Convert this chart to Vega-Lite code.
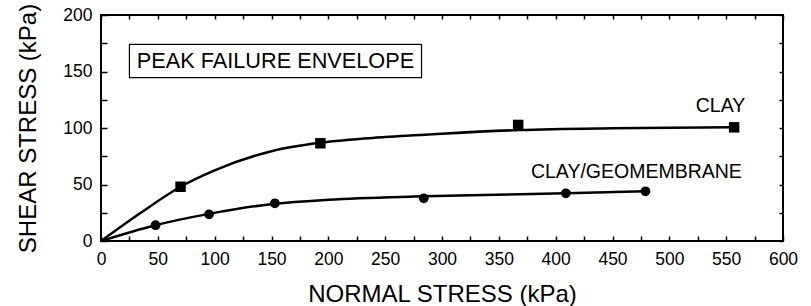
{
  "$schema": "https://vega.github.io/schema/vega-lite/v6.json",
  "width": 682,
  "height": 226,
  "padding": {"left": 101, "top": 15, "right": 28, "bottom": 65},
  "autosize": {"type": "none"},
  "background": "white",
  "config": {
    "view": {"stroke": "black", "strokeWidth": 2},
    "font": "Liberation Sans",
    "axis": {"domain": false, "grid": false, "labelFlush": false, "labelOverlap": false, "tickColor": "black", "labelColor": "black", "titleColor": "black", "labelFont": "Liberation Sans", "titleFont": "Liberation Sans", "labelFontSize": 17.5, "titleFontSize": 24, "titleFontWeight": "normal", "tickWidth": 1.5}
  },
  "datasets": {
    "points": [
      {"series": "CLAY", "normal": 70, "shear": 48},
      {"series": "CLAY", "normal": 193, "shear": 86.5},
      {"series": "CLAY", "normal": 367, "shear": 102.7},
      {"series": "CLAY", "normal": 557, "shear": 100.6},
      {"series": "CLAY/GEOMEMBRANE", "normal": 48, "shear": 14},
      {"series": "CLAY/GEOMEMBRANE", "normal": 95, "shear": 23.6},
      {"series": "CLAY/GEOMEMBRANE", "normal": 153, "shear": 33.4},
      {"series": "CLAY/GEOMEMBRANE", "normal": 284, "shear": 37.8},
      {"series": "CLAY/GEOMEMBRANE", "normal": 409, "shear": 42.2},
      {"series": "CLAY/GEOMEMBRANE", "normal": 479, "shear": 44}
    ],
    "curves": [
      {"series": "CLAY", "normal": 0, "shear": 0},
      {"series": "CLAY", "normal": 35, "shear": 25},
      {"series": "CLAY", "normal": 70, "shear": 48},
      {"series": "CLAY", "normal": 100, "shear": 62.5},
      {"series": "CLAY", "normal": 150, "shear": 79.5},
      {"series": "CLAY", "normal": 193, "shear": 87},
      {"series": "CLAY", "normal": 250, "shear": 92},
      {"series": "CLAY", "normal": 300, "shear": 95},
      {"series": "CLAY", "normal": 368, "shear": 98.2},
      {"series": "CLAY", "normal": 450, "shear": 99.8},
      {"series": "CLAY", "normal": 557, "shear": 100.6},
      {"series": "CLAY/GEOMEMBRANE", "normal": 0, "shear": 0},
      {"series": "CLAY/GEOMEMBRANE", "normal": 48, "shear": 14},
      {"series": "CLAY/GEOMEMBRANE", "normal": 95, "shear": 24},
      {"series": "CLAY/GEOMEMBRANE", "normal": 153, "shear": 33},
      {"series": "CLAY/GEOMEMBRANE", "normal": 200, "shear": 36.5},
      {"series": "CLAY/GEOMEMBRANE", "normal": 284, "shear": 39.5},
      {"series": "CLAY/GEOMEMBRANE", "normal": 409, "shear": 42.2},
      {"series": "CLAY/GEOMEMBRANE", "normal": 479, "shear": 44}
    ],
    "labels": [
      {"text": "CLAY", "normal": 545, "shear": 119.5},
      {"text": "CLAY/GEOMEMBRANE", "normal": 471, "shear": 61.3}
    ],
    "box": [
      {"text": "PEAK FAILURE ENVELOPE", "x1": 25, "x2": 282, "y1": 144.5, "y2": 174, "xc": 153.5, "yc": 159}
    ]
  },
  "layer": [
    {
      "data": {"name": "box"},
      "mark": {"type": "rect", "fill": "white", "stroke": "black", "strokeWidth": 1.2},
      "encoding": {
        "x": {"field": "x1", "type": "quantitative", "scale": {"domain": [0, 600], "nice": false}, "axis": {"orient": "bottom", "title": "NORMAL STRESS (kPa)", "values": [0,25,50,75,100,125,150,175,200,225,250,275,300,325,350,375,400,425,450,475,500,525,550,575,600], "labelExpr": "datum.value % 50 == 0 ? datum.label : ''", "tickSize": -5, "labelPadding": 14, "titleY": 41, "titleBaseline": "top"}},
        "x2": {"field": "x2"},
        "y": {"field": "y1", "type": "quantitative", "scale": {"domain": [0, 200], "nice": false}, "axis": {"orient": "left", "title": "SHEAR STRESS (kPa)", "values": [0,25,50,75,100,125,150,175,200], "labelExpr": "datum.value % 50 == 0 ? datum.label : ''", "tickSize": -6, "labelPadding": 15, "titleX": -61, "titleY": 113}},
        "y2": {"field": "y2"}
      }
    },
    {
      "data": {"name": "box"},
      "mark": {"type": "text", "fontSize": 21.7, "font": "Liberation Sans", "color": "black", "align": "center", "baseline": "middle"},
      "encoding": {
        "x": {"field": "xc", "type": "quantitative", "axis": {"orient": "top", "title": null, "labels": false, "values": [0,25,50,75,100,125,150,175,200,225,250,275,300,325,350,375,400,425,450,475,500,525,550,575,600], "tickSize": -4}},
        "y": {"field": "yc", "type": "quantitative", "axis": {"orient": "right", "title": null, "labels": false, "values": [0,25,50,75,100,125,150,175,200], "tickSize": -4}},
        "text": {"field": "text"}
      }
    },
    {
      "data": {"name": "curves"},
      "mark": {"type": "line", "interpolate": "monotone", "color": "black", "strokeWidth": 2.5},
      "encoding": {
        "x": {"field": "normal", "type": "quantitative", "axis": null},
        "y": {"field": "shear", "type": "quantitative", "axis": null},
        "detail": {"field": "series"}
      }
    },
    {
      "data": {"name": "points"},
      "mark": {"type": "point", "filled": true, "color": "black", "opacity": 1},
      "encoding": {
        "x": {"field": "normal", "type": "quantitative", "axis": null},
        "y": {"field": "shear", "type": "quantitative", "axis": null},
        "shape": {"field": "series", "type": "nominal", "scale": {"domain": ["CLAY", "CLAY/GEOMEMBRANE"], "range": ["square", "circle"]}, "legend": null},
        "size": {"field": "series", "type": "nominal", "scale": {"domain": ["CLAY", "CLAY/GEOMEMBRANE"], "range": [110, 95]}, "legend": null}
      }
    },
    {
      "data": {"name": "labels"},
      "mark": {"type": "text", "fontSize": 19.5, "font": "Liberation Sans", "color": "black", "align": "center", "baseline": "middle"},
      "encoding": {
        "x": {"field": "normal", "type": "quantitative", "axis": null},
        "y": {"field": "shear", "type": "quantitative", "axis": null},
        "text": {"field": "text"}
      }
    }
  ],
  "resolve": {"axis": {"x": "independent", "y": "independent"}}
}
